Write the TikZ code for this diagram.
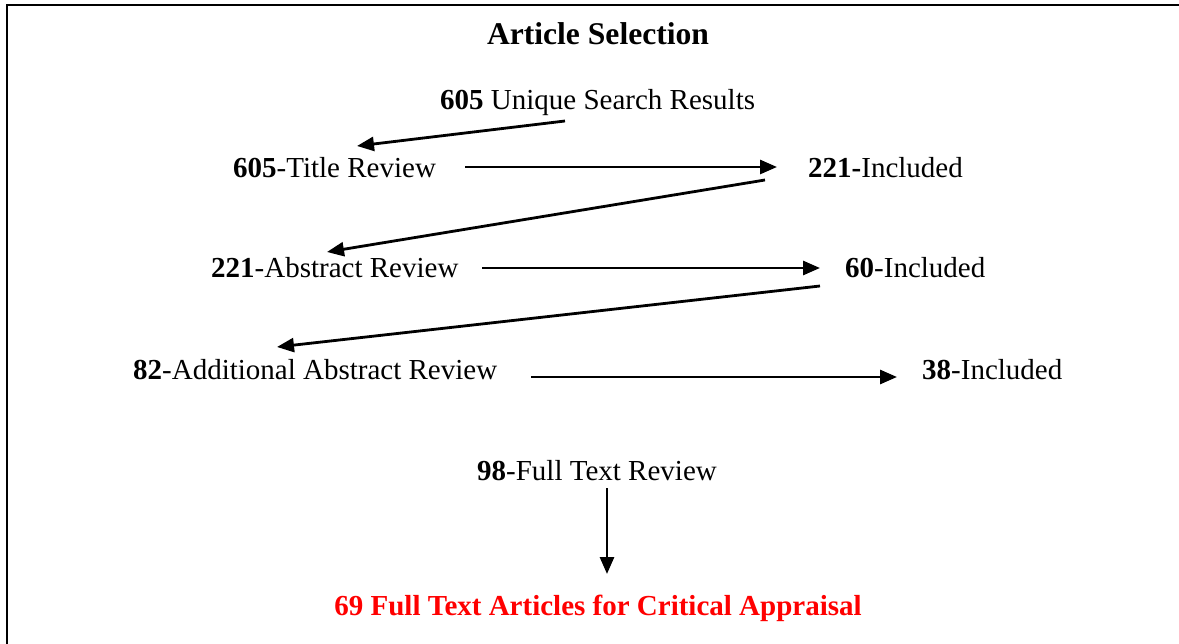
\documentclass[tikz,border=0pt]{standalone}
\usepackage{fontspec}
\setmainfont{Liberation Serif}
\usetikzlibrary{arrows.meta}
\definecolor{apprred}{RGB}{255,0,0}
\tikzset{
  lbl/.style={anchor=base west, inner sep=0pt, font=\fontsize{29}{34}\selectfont},
  flow/.style={line width=2.8pt, -{Triangle[length=17pt,width=14pt]}},
  frame/.style={line width=2.8pt}
}
\begin{document}
\begin{tikzpicture}[x=1pt,y=-1pt]
\useasboundingbox (0,0) rectangle (1179,644);
% open frame: top and left edges
\draw[frame] (7,644) -- (7,5) -- (1179,5);

% title
\node[anchor=base, inner sep=0pt, font=\fontsize{31.6}{36}\selectfont\bfseries] (title) at (598,45) {Article Selection};

% stages
\node[lbl] (search)   at (440,110) {\textbf{605} Unique Search Results};
\node[lbl] (titlerev) at (233,178) {\textbf{605}-Title Review};
\node[lbl] (inc221)   at (808,178) {\textbf{221-}Included};
\node[lbl] (absrev)   at (211,278) {\textbf{221}-Abstract Review};
\node[lbl] (inc60)    at (845,278) {\textbf{60}-Included};
\node[lbl] (addrev)   at (133,380) {\textbf{82}-Additional Abstract Review};
\node[lbl] (inc38)    at (922,380) {\textbf{38}-Included};
\node[lbl] (fullrev)  at (477,480) {\textbf{98}-Full Text Review};
\node[anchor=base, inner sep=0pt, font=\fontsize{29}{34}\selectfont\bfseries, text=apprred] (final) at (598,615) {69 Full Text Articles for Critical Appraisal};

% connector end points
\coordinate (a1s) at (565,121);  \coordinate (a1e) at (357,146);
\coordinate (a2s) at (465,167);  \coordinate (a2e) at (777,167);
\coordinate (a3s) at (765,180);  \coordinate (a3e) at (327,252);
\coordinate (a4s) at (482,268);  \coordinate (a4e) at (820,268);
\coordinate (a5s) at (820,286);  \coordinate (a5e) at (277,347);
\coordinate (a6s) at (531,377);  \coordinate (a6e) at (897,377);
\coordinate (a7s) at (607,488);  \coordinate (a7e) at (607,574);

% connectors
\draw[flow] (a1s) -- (a1e);
\draw[flow] (a2s) -- (a2e);
\draw[flow] (a3s) -- (a3e);
\draw[flow] (a4s) -- (a4e);
\draw[flow] (a5s) -- (a5e);
\draw[flow] (a6s) -- (a6e);
\draw[flow] (a7s) -- (a7e);
\end{tikzpicture}
\end{document}
